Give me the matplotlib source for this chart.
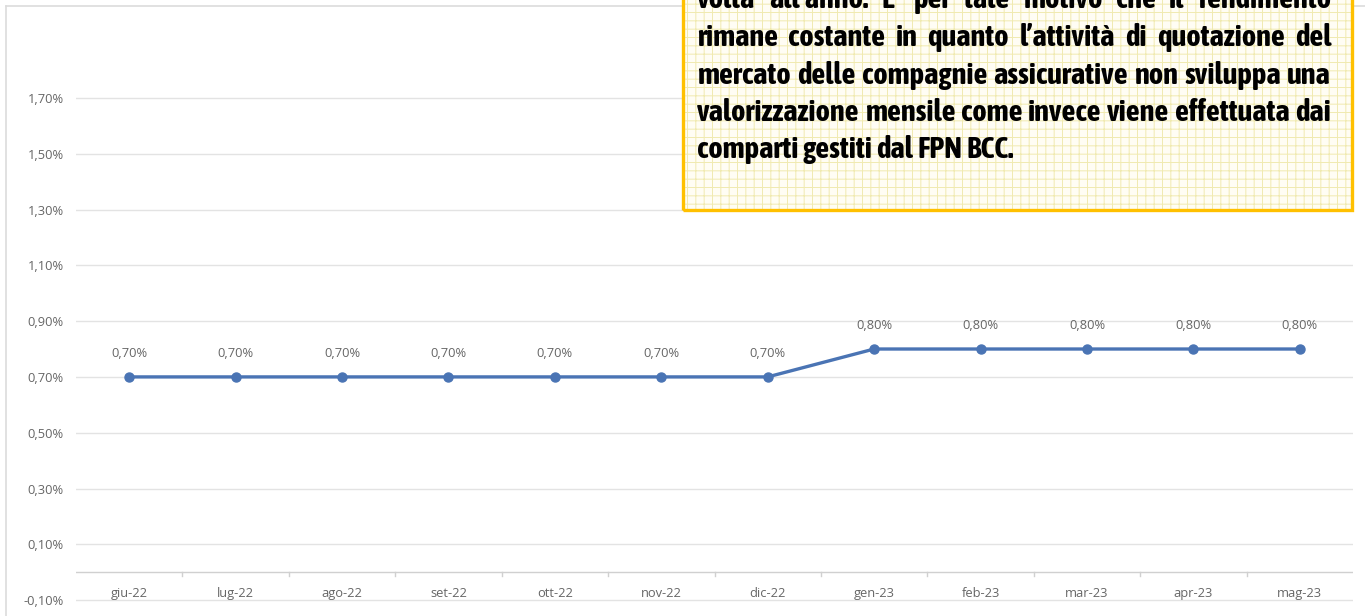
import matplotlib
matplotlib.use("Agg")
import matplotlib.pyplot as plt
from matplotlib import font_manager as fm
from matplotlib.patches import Rectangle
from matplotlib.lines import Line2D
from matplotlib.ticker import FixedLocator, FuncFormatter

# ---------------- data ----------------
months = ["giu-22", "lug-22", "ago-22", "set-22", "ott-22", "nov-22",
          "dic-22", "gen-23", "feb-23", "mar-23", "apr-23", "mag-23"]
rendimento = [0.70, 0.70, 0.70, 0.70, 0.70, 0.70, 0.70, 0.80, 0.80, 0.80, 0.80, 0.80]
y_ticks = [-0.10, 0.10, 0.30, 0.50, 0.70, 0.90, 1.10, 1.30, 1.50, 1.70]
note_lines = [
    "volta all\u2019anno. E\u2019 per tale motivo che il rendimento",
    "rimane costante in quanto l\u2019attivit\u00e0 di quotazione del",
    "mercato delle compagnie assicurative non sviluppa una",
    "valorizzazione mensile come invece viene effettuata dai",
    "comparti gestiti dal FPN BCC.",
]

W, H = 1365, 616
DPI = 100
matplotlib.rcParams["hatch.linewidth"] = 0.7
fig = plt.figure(figsize=(W / DPI, H / DPI), dpi=DPI)
fig.patch.set_facecolor("white")

def fx(px):
    return px / W

def fy(py):
    return 1 - py / H

# ---------------- axes ----------------
ax = fig.add_axes([fx(76), 0, fx(1353) - fx(76), 1])
ax.set_facecolor("none")
ax.set_xlim(-0.5, len(months) - 0.5)
ax.set_ylim(-0.157, 2.051)
for s in ax.spines.values():
    s.set_visible(False)

tick_font = "Open Sans"
lbl_color = "#666666"
lbl_size = 9.3

ax.yaxis.set_major_locator(FixedLocator(y_ticks))
ax.yaxis.set_major_formatter(FuncFormatter(lambda v, p: f"{v:.2f}".replace(".", ",") + "%"))
ax.tick_params(axis="y", length=0, pad=9, labelsize=lbl_size, labelcolor=lbl_color)
for lab in ax.get_yticklabels():
    lab.set_fontfamily(tick_font)
ax.grid(axis="y", color="#E3E3E3", linewidth=1.0)
ax.set_axisbelow(True)

# category axis at 0 with tick marks between categories
ax.axhline(0, color="#D0D0D0", linewidth=1.0, zorder=1)
ax.set_xticks([])
for i in range(1, len(months)):
    ax.plot([i - 0.5, i - 0.5], [0, -0.012], color="#D0D0D0", lw=1.0, zorder=1)
for i, m in enumerate(months):
    ax.annotate(m, (i, 0), xytext=(0, -15), textcoords="offset points",
                ha="center", va="center", fontsize=lbl_size, color=lbl_color,
                family=tick_font)

# ---------------- series ----------------
x = list(range(len(months)))
ax.plot(x, rendimento, color="#4A74B4", lw=2.4, marker="o", ms=6.5,
        markerfacecolor="#4A74B4", markeredgecolor="#4A74B4", zorder=3)
for i, v in enumerate(rendimento):
    ax.annotate(f"{v:.2f}".replace(".", ",") + "%", (i, v), xytext=(0, 17),
                textcoords="offset points", ha="center", va="center",
                fontsize=lbl_size, color=lbl_color, family=tick_font)

# ---------------- chart border ----------------
fig.add_artist(Line2D([fx(6), 1], [fy(6), fy(6)], color="#DCDCDC", lw=1.2))
fig.add_artist(Line2D([fx(6), fx(6)], [fy(6), 0], color="#DCDCDC", lw=1.2))

# ---------------- note box ----------------
bx0, bx1, by0, by1 = 683, 1352, -20, 210
fig.add_artist(Rectangle((fx(bx0), fy(by1)), fx(bx1) - fx(bx0), fy(by0) - fy(by1),
                         transform=fig.transFigure, facecolor="#FFFDF4",
                         edgecolor="#F0EAB0", linewidth=0, hatch="++", zorder=5))
fig.add_artist(Rectangle((fx(bx0), fy(by1)), fx(bx1) - fx(bx0), fy(by0) - fy(by1),
                         transform=fig.transFigure, facecolor="none",
                         edgecolor="#FFC000", linewidth=2.4, zorder=6))

# choose a condensed / narrow bold font if one is installed
def pick_font():
    cond = ("condensed", "semi-condensed", "extra-condensed", "ultra-condensed")
    cands = []
    for f in fm.fontManager.ttflist:
        w = f.weight if isinstance(f.weight, int) else (700 if "bold" in str(f.weight) else 400)
        if f.style != "normal":
            continue
        narrow = (f.stretch in cond) or ("Condensed" in f.name) or ("Narrow" in f.name) \
            or ("Condensed" in f.fname) or ("Narrow" in f.fname)
        if narrow and w >= 600:
            cands.append(f)
    if cands:
        cands.sort(key=lambda f: (abs((f.weight if isinstance(f.weight, int) else 700) - 700), f.name))
        return fm.FontProperties(fname=cands[0].fname)
    if "Roboto" in {f.name for f in fm.fontManager.ttflist}:
        return fm.FontProperties(family="Roboto", weight="bold")
    return fm.FontProperties(family="DejaVu Sans", weight="bold")

base_fp = pick_font()

renderer = fig.canvas.get_renderer()
tx0, tx1 = 697, 1331
avail = tx1 - tx0

def fp_size(size):
    p = base_fp.copy()
    p.set_size(size)
    return p

def width_of(s, size):
    t = fig.text(0, 0, s, fontproperties=fp_size(size))
    w = t.get_window_extent(renderer).width
    t.remove()
    return w

size = 22.0
widest = max(width_of(l, size) for l in note_lines)
size = min(22.0, size * (avail - 10) / widest)

baselines = [8, 46, 84, 121, 158]
for li, (line, base) in enumerate(zip(note_lines, baselines)):
    words = line.split(" ")
    ws = [width_of(w, size) for w in words]
    last = li == len(note_lines) - 1
    if last or len(words) == 1:
        sp = width_of("a a", size) - 2 * width_of("a", size)
    else:
        sp = (avail - sum(ws)) / (len(words) - 1)
    xpos = tx0
    for w, wd in zip(words, ws):
        fig.text(fx(xpos), fy(base), w, fontproperties=fp_size(size), color="black",
                 ha="left", va="baseline", zorder=7)
        xpos += wd + sp

fig.savefig("out.png", dpi=DPI, facecolor="white")
